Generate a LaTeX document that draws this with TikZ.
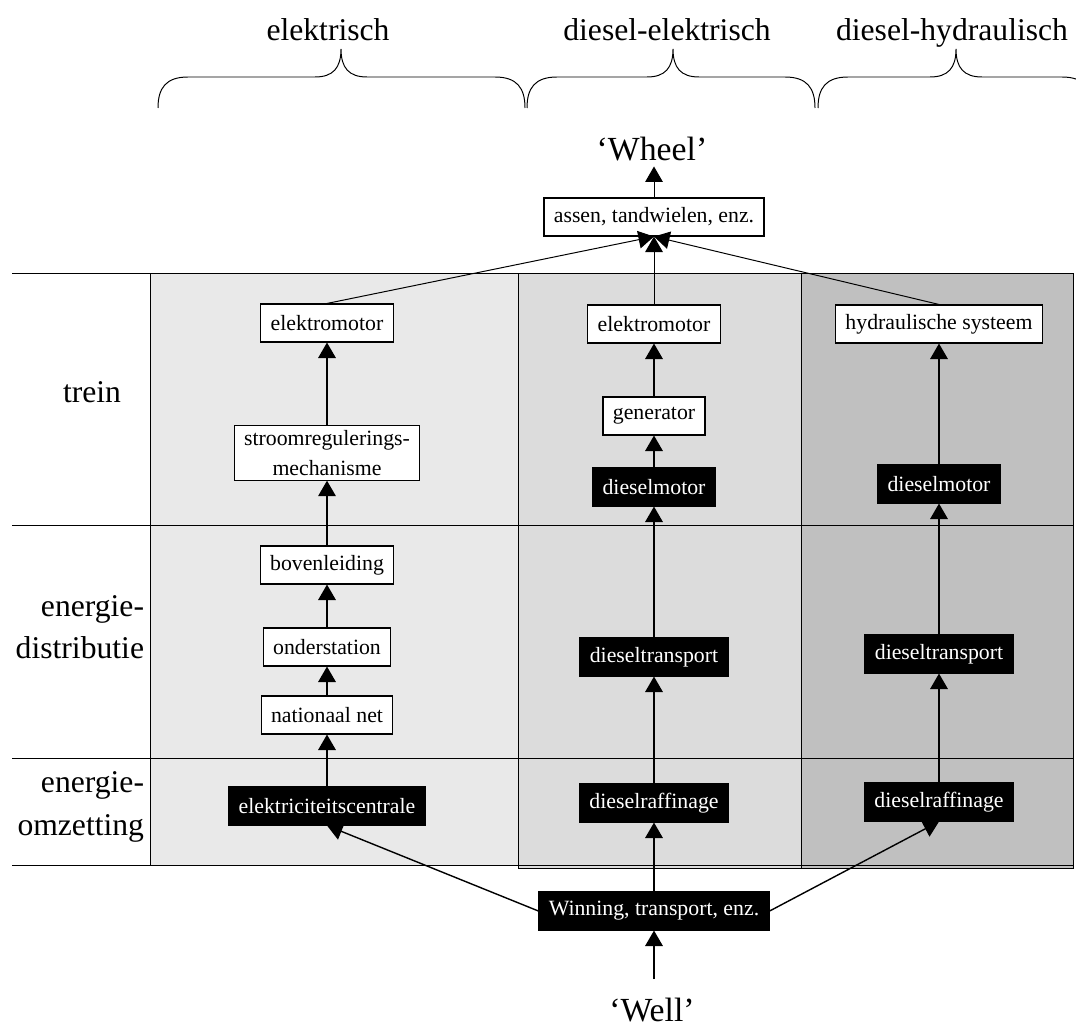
\documentclass[tikz,border=0pt]{standalone}
\usepackage{fontspec}
\setmainfont{Liberation Serif}
\usetikzlibrary{arrows.meta}

\definecolor{elgray}{HTML}{E9E9E9}
\definecolor{degray}{HTML}{DCDCDC}
\definecolor{dhgray}{HTML}{C0C0C0}

\tikzset{
  wbox/.style={draw, fill=white, line width=0.8pt, inner xsep=7pt,
    minimum height=27pt, font=\fontsize{15.5}{21}\selectfont},
  bbox/.style={draw, fill=black, text=white, line width=0.8pt, inner xsep=7pt,
    minimum height=27pt, font=\fontsize{15.5}{21}\selectfont},
  flow/.style={line width=1pt, -{Triangle[width=12.5pt,length=11pt]}},
  thinflow/.style={line width=0.7pt, -{Triangle[width=12.5pt,length=11pt]}},
  biglabel/.style={font=\fontsize{22.5}{30}\selectfont},
  rowlabel/.style={font=\fontsize{22.5}{30}\selectfont, align=right, anchor=east}
}

% curly brace over a column
\newcommand{\colbrace}[3]{%
  \draw[line width=0.7pt] (#1,108) .. controls (#1,88) and (#1+8,77) .. (#1+30,77)
    -- (#2-26,77) .. controls (#2-8,77) and (#2,68) .. (#2,49)
    .. controls (#2,68) and (#2+8,77) .. (#2+26,77)
    -- (#3-30,77) .. controls (#3-8,77) and (#3,88) .. (#3,108);}

\begin{document}
\begin{tikzpicture}[x=0.025cm,y=-0.025cm]
  \useasboundingbox (0,0) rectangle (1076,1030);

  % columns
  \draw[line width=0.6pt,fill=degray] (518,273) rectangle (801,868);
  \draw[line width=0.6pt,fill=dhgray] (801,273) rectangle (1073,868);
  \draw[line width=0.6pt,fill=elgray] (150,273) rectangle (518,865);

  % rows
  \foreach \y in {273,525,758,865}
    \draw[line width=0.6pt] (12,\y) -- (1073,\y);

  \node[rowlabel] (trein) at (126,392) {trein};
  \node[rowlabel] (distr) at (149,627) {energie-\\distributie};
  \node[rowlabel] (omzet) at (149,807) {energie-\\omzetting};

  % column headers
  \node[biglabel,anchor=base] (elek) at (328,41) {elektrisch};
  \node[biglabel,anchor=base] (dielek) at (667,41) {diesel-elektrisch};
  \node[biglabel,anchor=base] (dihyd) at (952,41) {diesel-hydraulisch};
  \colbrace{158}{341}{525}
  \colbrace{527}{673}{815}
  \colbrace{818}{956}{1092}

  % elektrisch
  \node[wbox] (emotA) at (327,323) {elektromotor};
  \node[wbox,align=center] (regel) at (327,453) {stroomregulerings-\\mechanisme};
  \node[wbox] (boven) at (327,565) {bovenleiding};
  \node[wbox] (onder) at (327,647) {onderstation};
  \node[wbox] (netw) at (327,715) {nationaal net};
  \node[bbox] (centrale) at (327,806) {elektriciteitscentrale};

  % diesel-elektrisch
  \node[wbox] (emotB) at (654,324) {elektromotor};
  \node[wbox] (gen) at (654,416) {generator};
  \node[bbox] (dmotB) at (654,487) {dieselmotor};
  \node[bbox] (transB) at (654,657) {dieseltransport};
  \node[bbox] (raffB) at (654,803) {dieselraffinage};

  % diesel-hydraulisch
  \node[wbox] (hydr) at (939,324) {hydraulische systeem};
  \node[bbox] (dmotC) at (939,484) {dieselmotor};
  \node[bbox] (transC) at (939,654) {dieseltransport};
  \node[bbox] (raffC) at (939,802) {dieselraffinage};

  % wheel and well
  \node[wbox] (assen) at (654,217) {assen, tandwielen, enz.};
  \node[biglabel,anchor=base,font=\fontsize{24}{30}\selectfont] (wheel) at (652,161) {‘Wheel’};
  \node[bbox] (winning) at (654,911) {Winning, transport, enz.};
  \node[biglabel,anchor=base,inner ysep=13pt,font=\fontsize{24}{30}\selectfont] (well) at (652,1021) {‘Well’};

  \draw[flow] (centrale) -- (netw);
  \draw[flow] (netw) -- (onder);
  \draw[flow] (onder) -- (boven);
  \draw[flow] (boven) -- (regel);
  \draw[flow] (regel) -- (emotA);

  \draw[flow] (raffB) -- (transB);
  \draw[flow] (transB) -- (dmotB);
  \draw[flow] (dmotB) -- (gen);
  \draw[flow] (gen) -- (emotB);

  \draw[flow] (raffC) -- (transC);
  \draw[flow] (transC) -- (dmotC);
  \draw[flow] (dmotC) -- (hydr);

  \draw[thinflow] (emotA.north) -- (assen.south);
  \draw[thinflow] (emotB) -- (assen);
  \draw[thinflow] (hydr.north) -- (assen.south);
  \draw[thinflow] (assen) -- (assen |- wheel.south);

  \draw[flow] (well.north -| winning) -- (winning);
  \draw[flow] (winning.west) -- (centrale.south);
  \draw[flow] (winning) -- (raffB);
  \draw[flow] (winning.east) -- (raffC.south);
\end{tikzpicture}
\end{document}
